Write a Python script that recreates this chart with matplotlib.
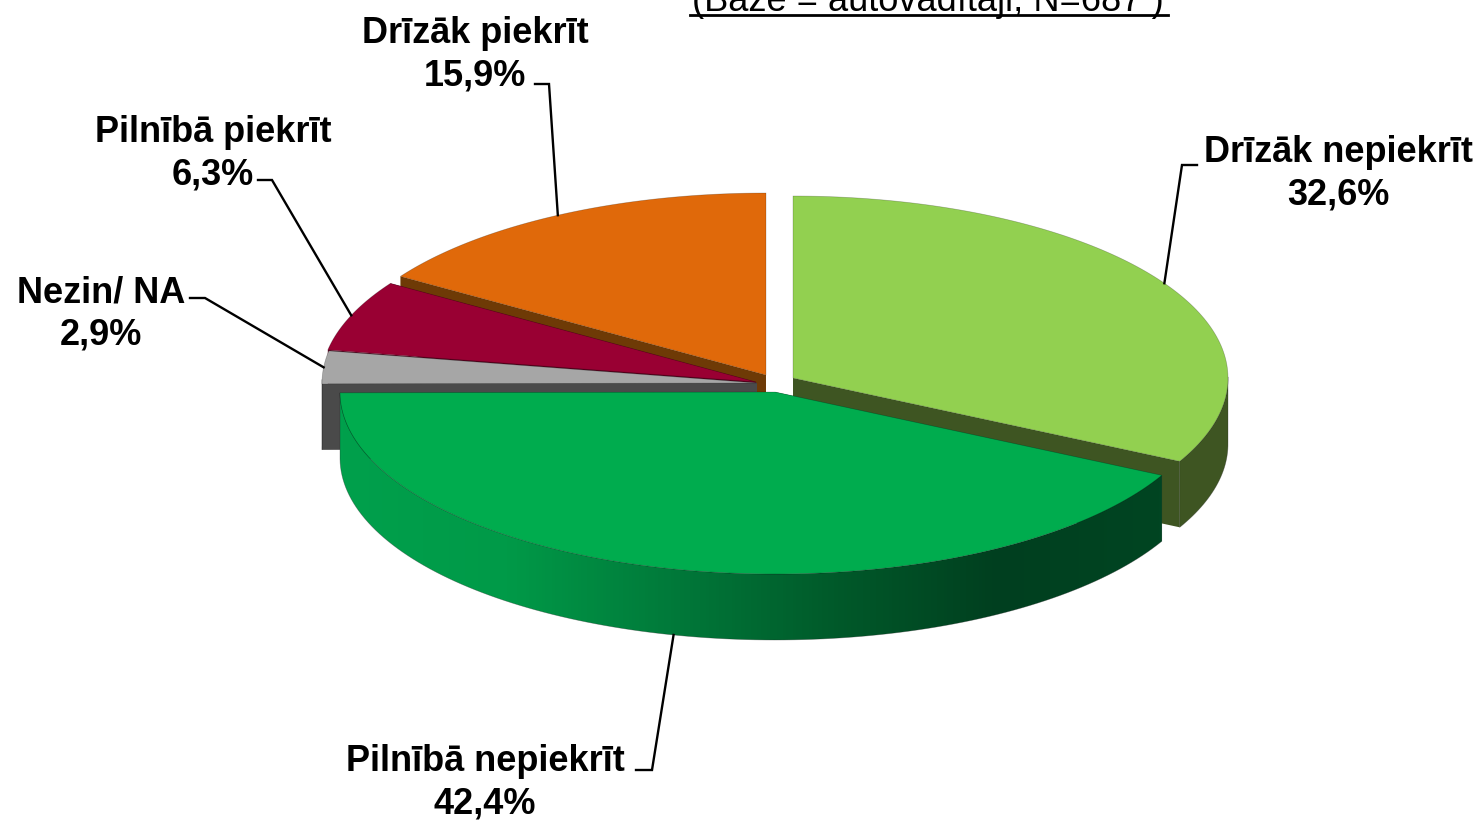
import numpy as np
import matplotlib
matplotlib.use('Agg')
import matplotlib.pyplot as plt
from matplotlib.colors import LinearSegmentedColormap
from matplotlib.patches import Polygon

plt.rcParams['font.family'] = ['Liberation Sans', 'DejaVu Sans']

W, H = 1478, 821

# clockwise from 12 o'clock
categories = ['Drīzāk nepiekrīt', 'Pilnībā nepiekrīt', 'Nezin/ NA', 'Pilnībā piekrīt', 'Drīzāk piekrīt']
values = [32.6, 42.4, 2.9, 6.3, 15.9]
value_labels = ['32,6%', '42,4%', '2,9%', '6,3%', '15,9%']
colors = ['#92d050', '#00ac4e', '#a6a6a6', '#990033', '#e0690a']
wall_colors = ['#3e5522', '#00703a', '#4a4a4a', '#5c001f', '#6e3a06']
title = '(Bāze = autovadītāji, N=687 )'

# exploded pie centres in pixels
centres = [(793, 378), (775, 392), (757, 383), (756, 382), (766, 375)]
RX, RY, DEPTH = 435, 182, 66

fig = plt.figure(figsize=(W / 100, H / 100), dpi=100)
ax = fig.add_axes([0, 0, 1, 1])
ax.set_xlim(0, W)
ax.set_ylim(H, 0)
ax.axis('off')

# rescale so the slices close the circle
total = sum(values)
edges = np.concatenate([[0], np.cumsum(values)]) / total * 360


def rim(i, a):
    cx, cy = centres[i]
    r = np.radians(a)
    return cx + RX * np.sin(r), cy - RY * np.cos(r)


def draw_slice(i, zorder):
    angles = np.linspace(edges[i], edges[i + 1], 120)
    pts = np.column_stack(rim(i, angles))
    c = np.array(centres[i], dtype=float)
    low = np.array([0, DEPTH])
    # cut faces and outer wall, then the top
    for a, b in [(c, pts[0]), (c, pts[-1])]:
        ax.add_patch(Polygon([a, b, b + low, a + low], fc=wall_colors[i], ec='none', zorder=zorder))
    front = pts[np.cos(np.radians(angles)) <= 0.02]
    if len(front) > 1:
        wall = np.vstack([front, (front + low)[::-1]])
        patch = Polygon(wall, fc=wall_colors[i], ec='#20202060', lw=0.5, zorder=zorder + 0.1)
        ax.add_patch(patch)
        if i == 1:
            # green wall has a horizontal shade
            patch.set_facecolor('none')
            cmap = LinearSegmentedColormap.from_list(
                'wall', ['#00a04c', '#009a48', '#007a3a', '#005a2a', '#003f1f', '#004522'])
            im = ax.imshow(np.linspace(0, 1, 256)[None, :], cmap=cmap, aspect='auto',
                           extent=(front[:, 0].min(), front[:, 0].max(), H, 0), zorder=zorder + 0.05)
            im.set_clip_path(patch)
    ax.add_patch(Polygon(np.vstack([c, pts]), fc=colors[i], ec='#00000040', lw=0.5, zorder=zorder + 0.2))


# back to front
for z, i in enumerate([4, 3, 0, 2, 1]):
    draw_slice(i, 2 + z)
ax.set_xlim(0, W)
ax.set_ylim(H, 0)

# text positions and elbows of the leader lines
label_xy = [(1338, 174), (485, 783), (101, 314), (213, 153.5), (475, 55)]
elbows = [[(1182, 165), (1197, 165)], [(652, 770), (636, 770)], [(205, 298), (190, 298)],
          [(272, 180), (258, 180)], [(549, 84), (535, 84)]]
FS = 26
for i, name in enumerate(categories):
    a = (edges[i] + edges[i + 1]) / 2
    x, y = rim(i, a)
    if np.cos(np.radians(a)) < -0.5:
        y += DEPTH
    (ex, ey), (ox, oy) = elbows[i]
    ax.plot([x, ex, ox], [y, ey, oy], color='black', lw=1.7, zorder=20, solid_joinstyle='miter')
    tx, ty = label_xy[i]
    ax.text(tx, ty, name + '\n' + value_labels[i], ha='center', va='center', fontsize=FS,
            fontweight='bold', color='black', linespacing=1.26, zorder=21, ma='center')

ax.text(928, 11, title, ha='center', va='baseline', fontsize=26.1, color='black', clip_on=False)
ax.plot([690, 1168], [15, 15], color='black', lw=2, zorder=21)

fig.savefig('out.png', dpi=100)
